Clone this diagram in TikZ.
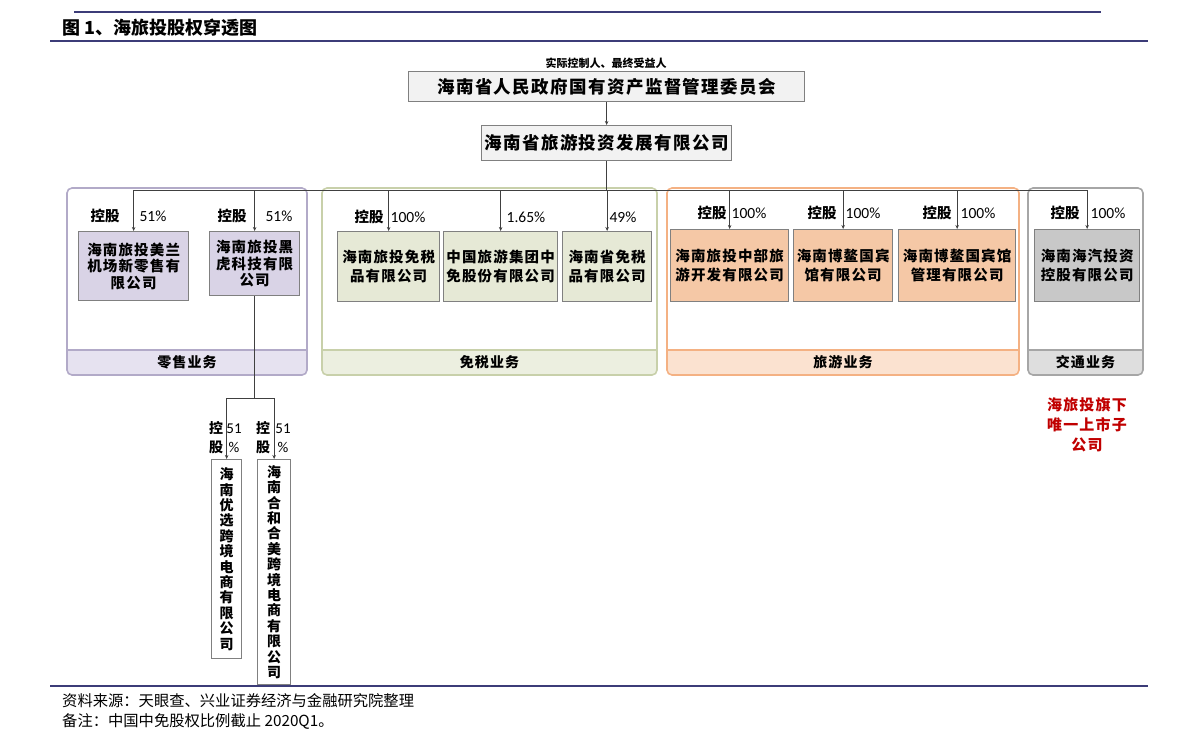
\documentclass[tikz,border=0pt]{standalone}
\usepackage{fontspec}
\setmainfont{Liberation Serif}
\newfontfamily\cjk{Noto Sans CJK SC}
\newfontfamily\cjks[LetterSpace=8]{Noto Sans CJK SC}
\newfontfamily\pct{Carlito}
\usetikzlibrary{arrows.meta}
\definecolor{navy}{RGB}{60,60,120}
\definecolor{conn}{RGB}{64,64,64}
\definecolor{boxline}{RGB}{128,128,128}
\definecolor{rtline}{RGB}{178,170,200}
\definecolor{rtband}{RGB}{230,226,240}
\definecolor{rtfill}{RGB}{217,211,230}
\definecolor{dfline}{RGB}{200,208,170}
\definecolor{dfband}{RGB}{236,239,224}
\definecolor{dffill}{RGB}{230,233,214}
\definecolor{toline}{RGB}{244,177,131}
\definecolor{toband}{RGB}{251,226,208}
\definecolor{tofill}{RGB}{245,200,166}
\definecolor{trline}{RGB}{166,166,166}
\definecolor{trband}{RGB}{222,222,222}
\definecolor{trfill}{RGB}{200,200,200}
\definecolor{redtxt}{RGB}{192,0,0}
\newcommand\bizgroup[6]{%
  \begin{scope}
    \clip[rounded corners=5pt] (#1,#2) rectangle (#3,#4);
    \fill[#6] (#1,350) rectangle (#3,#4);
  \end{scope}
  \draw[#5,line width=1.2pt] (#1,350) -- (#3,350);
  \draw[#5,line width=1.6pt,rounded corners=5pt] (#1,#2) rectangle (#3,#4);
}
\begin{document}
\begin{tikzpicture}[x=1pt,y=-1pt,
  cbox/.style={draw=boxline,line width=1.3pt,inner sep=0pt,align=center,anchor=north west,
    font=\cjks\bfseries\fontsize{14.5}{19}\selectfont},
  tribox/.style={cbox,font=\cjks\bfseries\fontsize{14.5}{16.5}\selectfont},
  vbox/.style={cbox,fill=white,font=\cjk\bfseries\fontsize{14}{15.4}\selectfont},
  topbox/.style={cbox,fill=gray!10,font=\cjks\bfseries\fontsize{17.5}{20}\selectfont},
  lbl/.style={inner sep=0pt,font=\cjk\bfseries\fontsize{14.5}{16}\selectfont},
  vlbl/.style={inner sep=0pt,align=center,font=\cjk\bfseries\fontsize{14}{19}\selectfont},
  pc/.style={inner sep=0pt,font=\pct\fontsize{15.5}{17}\selectfont},
  grp/.style={inner sep=0pt,font=\cjks\bfseries\fontsize{14}{16}\selectfont},
  line/.style={draw=conn,line width=0.9pt},
  arr/.style={line,-{Stealth[length=4pt,width=3.5pt]}},
  rule/.style={draw=navy,line width=1.4pt}]
\useasboundingbox (0,0) rectangle (1191,728);

% page rules and captions
\draw[rule] (74,12) -- (1101,12);
\draw[rule] (50,41) -- (1148,41);
\draw[rule] (50,686) -- (1148,686);
\node[anchor=west,inner sep=0pt,font=\cjk\bfseries\fontsize{18}{20}\selectfont] (title) at (62,28) {图 1、海旅投股权穿透图};
\node[anchor=west,inner sep=0pt,font=\cjk\fontsize{15.3}{17}\selectfont] (src) at (62,701) {资料来源：天眼查、兴业证券经济与金融研究院整理};
\node[anchor=west,inner sep=0pt,font=\cjk\fontsize{15.3}{17}\selectfont] (note) at (62,721) {备注：中国中免股权比例截止 2020Q1。};

% business groups
\bizgroup{67}{188}{307}{375}{rtline}{rtband}
\bizgroup{322}{188}{657}{375}{dfline}{dfband}
\bizgroup{667}{188}{1019}{375}{toline}{toband}
\bizgroup{1028}{188}{1143}{375}{trline}{trband}
\node[grp] (g1) at (187,362) {零售业务};
\node[grp] (g2) at (489.5,362) {免税业务};
\node[grp] (g3) at (843,362) {旅游业务};
\node[grp] (g4) at (1085.5,362) {交通业务};

% top
\node[lbl,font=\cjk\bfseries\fontsize{11}{12}\selectfont] (ctl) at (606,63) {实际控制人、最终受益人};
\node[topbox,minimum width=396,minimum height=30] (sasac) at (408,71) {海南省人民政府国有资产监督管理委员会};
\node[topbox,minimum width=250,minimum height=35] (hl) at (481,125) {海南省旅游投资发展有限公司};

% companies
\node[tribox,fill=rtfill,minimum width=110,minimum height=69] (b1) at (78,231) {海南旅投美兰\\机场新零售有\\限公司};
\node[tribox,fill=rtfill,minimum width=90,minimum height=64] (b2) at (209,231) {海南旅投黑\\虎科技有限\\公司};
\node[cbox,fill=dffill,minimum width=102,minimum height=70] (ba) at (337,231) {海南旅投免税\\品有限公司};
\node[cbox,fill=dffill,minimum width=114,minimum height=70] (bb) at (443,231) {中国旅游集团中\\免股份有限公司};
\node[cbox,fill=dffill,minimum width=89,minimum height=70] (bc) at (562,231) {海南省免税\\品有限公司};
\node[cbox,fill=tofill,minimum width=118,minimum height=72] (bd) at (670,229) {海南旅投中部旅\\游开发有限公司};
\node[cbox,fill=tofill,minimum width=99,minimum height=72] (be) at (793,229) {海南博鳌国宾\\馆有限公司};
\node[cbox,fill=tofill,minimum width=117,minimum height=72] (bf) at (898,229) {海南博鳌国宾馆\\管理有限公司};
\node[cbox,fill=trfill,minimum width=105,minimum height=72] (bg) at (1034,229) {海南海汽投资\\控股有限公司};
\node[vbox,minimum width=30,minimum height=199] (s1) at (211,459) {海\\南\\优\\选\\跨\\境\\电\\商\\有\\限\\公\\司};
\node[vbox,minimum width=33,minimum height=225] (s2) at (257,459) {海\\南\\合\\和\\合\\美\\跨\\境\\电\\商\\有\\限\\公\\司};

% connectors
\draw[arr] (sasac.south) -- (hl.north);
\draw[line,line width=1.6pt] (hl.south) -- (hl.south |- 0,190);
\draw[line] (b1.north |- 0,190) -- (bg.north |- 0,190);
\foreach \b in {b1,b2,ba,bb,bc,bd,be,bf,bg}{
  \draw[arr] (\b.north |- 0,190) -- (\b.north);
}
\draw[line] (b2.south) -- (b2.south |- 0,398);
\draw[line] (s1.north |- 0,398) -- (s2.north |- 0,398);
\draw[arr] (s1.north |- 0,398) -- (s1.north);
\draw[arr] (s2.north |- 0,398) -- (s2.north);

% share labels
\node[lbl] (k1) at (105,216) {控股};
\node[pc] (p1) at (153,216) {51\%};
\node[lbl] (k2) at (232,216) {控股};
\node[pc] (p2) at (279,216) {51\%};
\node[lbl] (k3) at (369,217) {控股};
\node[pc] (p3) at (408,217) {100\%};
\node[pc] (p4) at (526,217) {1.65\%};
\node[pc] (p5) at (623,217) {49\%};
\node[lbl] (k6) at (712,213) {控股};
\node[pc] (p6) at (749,213) {100\%};
\node[lbl] (k7) at (822,213) {控股};
\node[pc] (p7) at (863,213) {100\%};
\node[lbl] (k8) at (937,213) {控股};
\node[pc] (p8) at (978,213) {100\%};
\node[lbl] (k9) at (1065,213) {控股};
\node[pc] (p9) at (1108,213) {100\%};
\node[vlbl] (k10) at (216,438) {控\\股};
\node[pc,align=center,font=\pct\fontsize{15}{19}\selectfont] (p10) at (234,438) {51\\\%};
\node[vlbl] (k11) at (263,438) {控\\股};
\node[pc,align=center,font=\pct\fontsize{15}{19}\selectfont] (p11) at (283,438) {51\\\%};

% note
\node[align=center,inner sep=0pt,text=redtxt,font=\cjks\bfseries\fontsize{15}{20}\selectfont] (listed) at (1087,425) {海旅投旗下\\唯一上市子\\公司};
\end{tikzpicture}
\end{document}
